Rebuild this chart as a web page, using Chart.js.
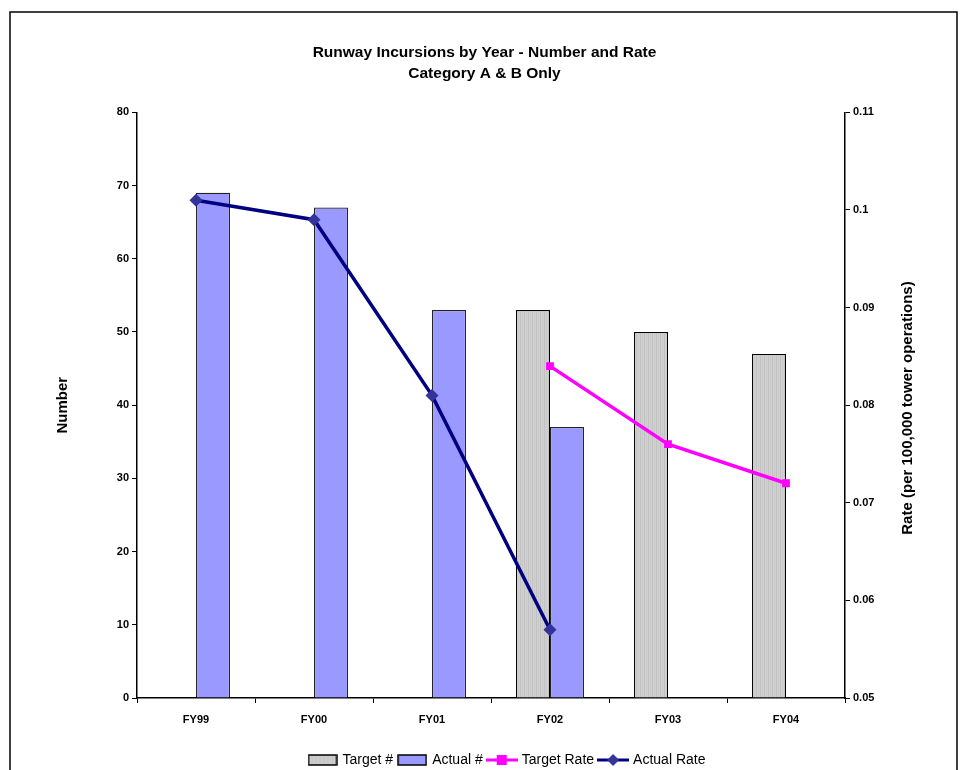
<!DOCTYPE html>
<html>
<head>
<meta charset="utf-8">
<script src="https://cdn.jsdelivr.net/npm/chart.js@4/dist/chart.umd.min.js"></script>
<style>
  html, body { margin: 0; padding: 0; background: #fff; }
  #wrap { width: 969px; height: 770px; }
</style>
</head>
<body>
<div id="wrap"><canvas id="chart" width="969" height="770"></canvas></div>
<script>
// Data
const years = ["FY99", "FY00", "FY01", "FY02", "FY03", "FY04"];
const targetNum = [null, null, null, 53, 50, 47];
const actualNum = [69, 67, 53, 37, null, null];
const targetRate = [null, null, null, 0.084, 0.076, 0.072];
const actualRate = [0.101, 0.099, 0.081, 0.057, null, null];
const numTicks = [0, 10, 20, 30, 40, 50, 60, 70, 80];
const rateTicks = [0.05, 0.06, 0.07, 0.08, 0.09, 0.10, 0.11];

const FONT = "'Liberation Sans', Arial, sans-serif";

// striped grey fill for the target bars
function stripes() {
  const c = document.createElement("canvas");
  c.width = 4; c.height = 4;
  const g = c.getContext("2d");
  g.fillStyle = "#d0d0d0"; g.fillRect(0, 0, 4, 4);
  g.fillStyle = "#c2c2c2"; g.fillRect(0, 0, 1, 4);
  g.fillStyle = "#c9c9c9"; g.fillRect(2, 0, 1, 4);
  return g.createPattern(c, "repeat");
}
const ctx = document.getElementById("chart").getContext("2d");
const greyFill = stripes();

// legend icons
function boxIcon(fill) {
  const c = document.createElement("canvas");
  c.width = 30; c.height = 12;
  const g = c.getContext("2d");
  g.fillStyle = fill; g.fillRect(1, 1, 28, 10);
  g.strokeStyle = "#000"; g.lineWidth = 1.5; g.strokeRect(1, 1, 28, 10);
  return c;
}
function lineIcon(color, mark, shape) {
  const c = document.createElement("canvas");
  c.width = 32; c.height = 12;
  const g = c.getContext("2d");
  g.strokeStyle = color; g.lineWidth = 3;
  g.beginPath(); g.moveTo(0, 6); g.lineTo(32, 6); g.stroke();
  g.fillStyle = mark;
  g.beginPath();
  if (shape === "square") { g.rect(11, 1, 10, 10); }
  else { g.moveTo(16, 0); g.lineTo(22, 6); g.lineTo(16, 12); g.lineTo(10, 6); g.closePath(); }
  g.fill();
  return c;
}
const icons = [boxIcon(greyFill), boxIcon("#9999ff"), lineIcon("#ff00ff", "#ff00ff", "square"), lineIcon("#000080", "#333399", "diamond")];

const frame = {
  id: "frame",
  afterLayout(chart) {
    // legend sits a bit right of the page centre in the original
    if (chart.legend) { chart.legend.left += 23; chart.legend.right += 23; }
  },
  afterDraw(chart) {
    const c = chart.ctx;
    c.save();
    c.strokeStyle = "#000"; c.lineWidth = 1.5;
    c.strokeRect(10, 12, 947, 800);
    // right axis title, reading bottom to top
    c.translate(908, 408);
    c.rotate(-Math.PI / 2);
    c.font = "bold 15px " + FONT;
    c.fillStyle = "#000"; c.textAlign = "center"; c.textBaseline = "middle";
    c.fillText("Rate (per 100,000 tower operations)", 0, 0);
    c.restore();
  }
};

new Chart(ctx, {
  type: "bar",
  data: {
    labels: years,
    datasets: [
      { label: "Target #", data: targetNum, backgroundColor: greyFill, borderColor: "#000", borderWidth: 1.2, yAxisID: "y", order: 2 },
      { label: "Actual #", data: actualNum, backgroundColor: "#9999ff", borderColor: "#222", borderWidth: 1.2, yAxisID: "y", order: 2 },
      { type: "line", label: "Target Rate", data: targetRate, borderColor: "#ff00ff", backgroundColor: "#ff00ff", borderWidth: 3.5,
        pointStyle: "rect", pointRadius: 5.5, pointBorderWidth: 0, yAxisID: "y1", order: 1, spanGaps: false },
      { type: "line", label: "Actual Rate", data: actualRate, borderColor: "#000080", backgroundColor: "#333399", borderWidth: 3.5,
        pointStyle: "rectRot", pointRadius: 6.5, pointBorderWidth: 0, yAxisID: "y1", order: 0, spanGaps: false }
    ]
  },
  options: {
    responsive: false,
    animation: false,
    layout: { padding: { top: 0, left: 0, right: 0, bottom: -7 } },
    datasets: { bar: { barPercentage: 1, categoryPercentage: 0.576 } },
    plugins: {
      tooltip: { enabled: false },
      title: {
        display: true,
        text: ["Runway Incursions by Year - Number and Rate", "Category A & B Only"],
        font: { family: FONT, size: 15.5, weight: "bold", lineHeight: 1.3 },
        color: "#000",
        padding: { top: 43, bottom: 29 }
      },
      legend: {
        position: "bottom",
        labels: {
          usePointStyle: true,
          pointStyleWidth: 26,
          padding: 6,
          font: { family: FONT, size: 14 },
          color: "#000",
          generateLabels: (chart) => chart.data.datasets.map((d, i) => ({
            text: d.label, pointStyle: icons[i], datasetIndex: i, hidden: false,
            lineWidth: 0, strokeStyle: "transparent", fillStyle: "transparent"
          }))
        }
      }
    },
    scales: {
      x: {
        offset: true,
        grid: { display: true, drawOnChartArea: false, drawTicks: true, tickLength: 5, tickColor: "#000", offset: true },
        border: { display: true, color: "#000", width: 1.5 },
        ticks: { color: "#000", font: { family: FONT, size: 11, weight: "bold" }, padding: 10, maxRotation: 0 },
        afterFit: (s) => { s.height = 49; }
      },
      y: {
        position: "left",
        min: 0, max: 80,
        afterBuildTicks: (s) => { s.ticks = numTicks.map(v => ({ value: v })); },
        grid: { drawOnChartArea: false, drawTicks: true, tickLength: 5, tickColor: "#000" },
        border: { display: true, color: "#000", width: 1.5 },
        ticks: { color: "#000", font: { family: FONT, size: 11, weight: "bold" }, padding: 3 },
        title: { display: true, text: "Number", color: "#000", font: { family: FONT, size: 15, weight: "bold" }, padding: { top: 54 } },
        afterFit: (s) => { s.width = 137; }
      },
      y1: {
        position: "right",
        min: 0.05, max: 0.11,
        afterBuildTicks: (s) => { s.ticks = rateTicks.map(v => ({ value: v })); },
        grid: { drawOnChartArea: false, drawTicks: true, tickLength: 5, tickColor: "#000" },
        border: { display: true, color: "#000", width: 1.5 },
        ticks: { color: "#000", font: { family: FONT, size: 11, weight: "bold" }, padding: 3,
          callback: (v) => String(Math.round(v * 100) / 100) },
        afterFit: (s) => { s.width = 124; }
      }
    }
  },
  plugins: [frame]
});
</script>
</body>
</html>
